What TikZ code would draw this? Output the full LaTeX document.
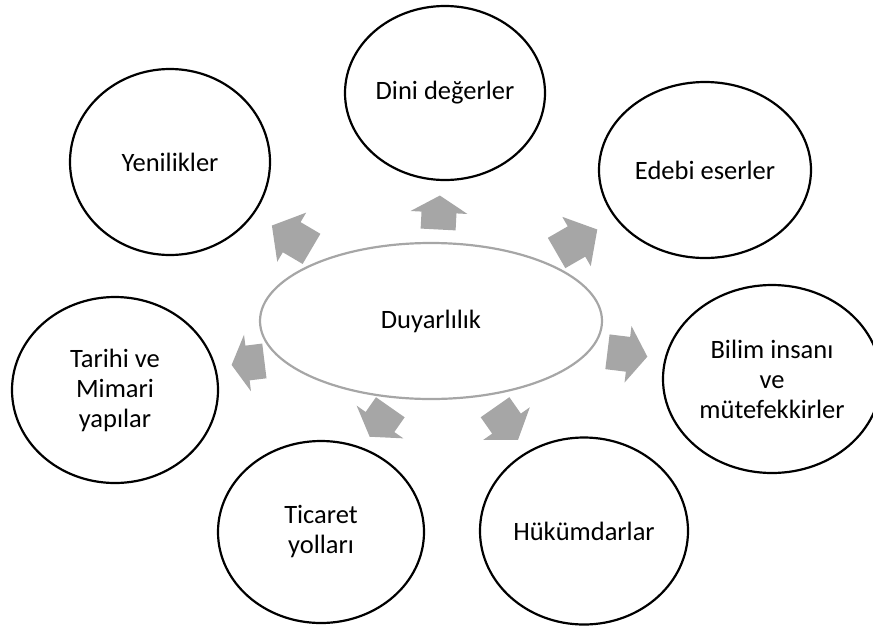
\documentclass[tikz,border=0pt]{standalone}
\usepackage{fontspec}
\setmainfont{Carlito}
\usepackage{tikz}
\usetikzlibrary{shapes.geometric}
\definecolor{arrowgray}{HTML}{A6A6A6}
\newcommand{\ringw}{2.2pt}
\newcommand{\shafth}{17.5}
\newcommand{\headh}{28.5}
% block arrow: base of head, angle, shaft length, head length
\newcommand{\blockarrow}[4]{%
  \fill[arrowgray, shift={#1}, rotate=#2] (-#3,-\shafth) -- (0,-\shafth) -- (0,-\headh)
    -- (#4,0) -- (0,\headh) -- (0,\shafth) -- (-#3,\shafth) -- cycle;}

\begin{document}
\begin{tikzpicture}[x=1pt,y=-1pt,
    every node/.style={font=\fontsize{26.5}{30}\selectfont, align=center, inner sep=0pt},
    bubble/.style={ellipse, draw=black, line width=\ringw}]
  \useasboundingbox (0,0) rectangle (873,627);
  %\draw[help lines] (0,0) grid[step=50] (873,627);
  \node[ellipse, draw=arrowgray, line width=\ringw, minimum width=342pt, minimum height=156pt] (hub) at (431,321) {Duyarlılık};
  \node[bubble, minimum width=200pt, minimum height=186pt] (yenilik) at (170,162) {Yenilikler};
  \node[bubble, minimum width=200pt, minimum height=174pt] (dini) at (445,93) {Dini değerler};
  \node[bubble, minimum width=212pt, minimum height=176pt] (edebi) at (705,170) {Edebi eserler};
  \node[bubble, minimum width=218pt, minimum height=188pt] (bilim) at (772,379) {Bilim insanı\\ve\\mütefekkirler};
  \node[bubble, minimum width=208pt, minimum height=187pt] (hukum) at (584,531) {Hükümdarlar};
  \node[bubble, minimum width=206pt, minimum height=182pt] (ticaret) at (321,532) {Ticaret\\yolları};
  \node[bubble, minimum width=206pt, minimum height=186pt] (tarihi) at (115,390) {Tarihi ve\\Mimari\\yapılar};
  % arrows out of the hub
  \blockarrow{(439,212.5)}{87}{17}{17}
  \blockarrow{(291.7,237.2)}{149.5}{23}{23}
  \blockarrow{(576.5,241.5)}{30}{23}{24}
  \blockarrow{(628,354.3)}{-7}{20.7}{19.5}
  \blockarrow{(247.5,363)}{187}{17}{16}
  \blockarrow{(380,422)}{-125}{18}{18}
  \blockarrow{(506.5,423.6)}{-55}{20}{20}
\end{tikzpicture}
\end{document}
